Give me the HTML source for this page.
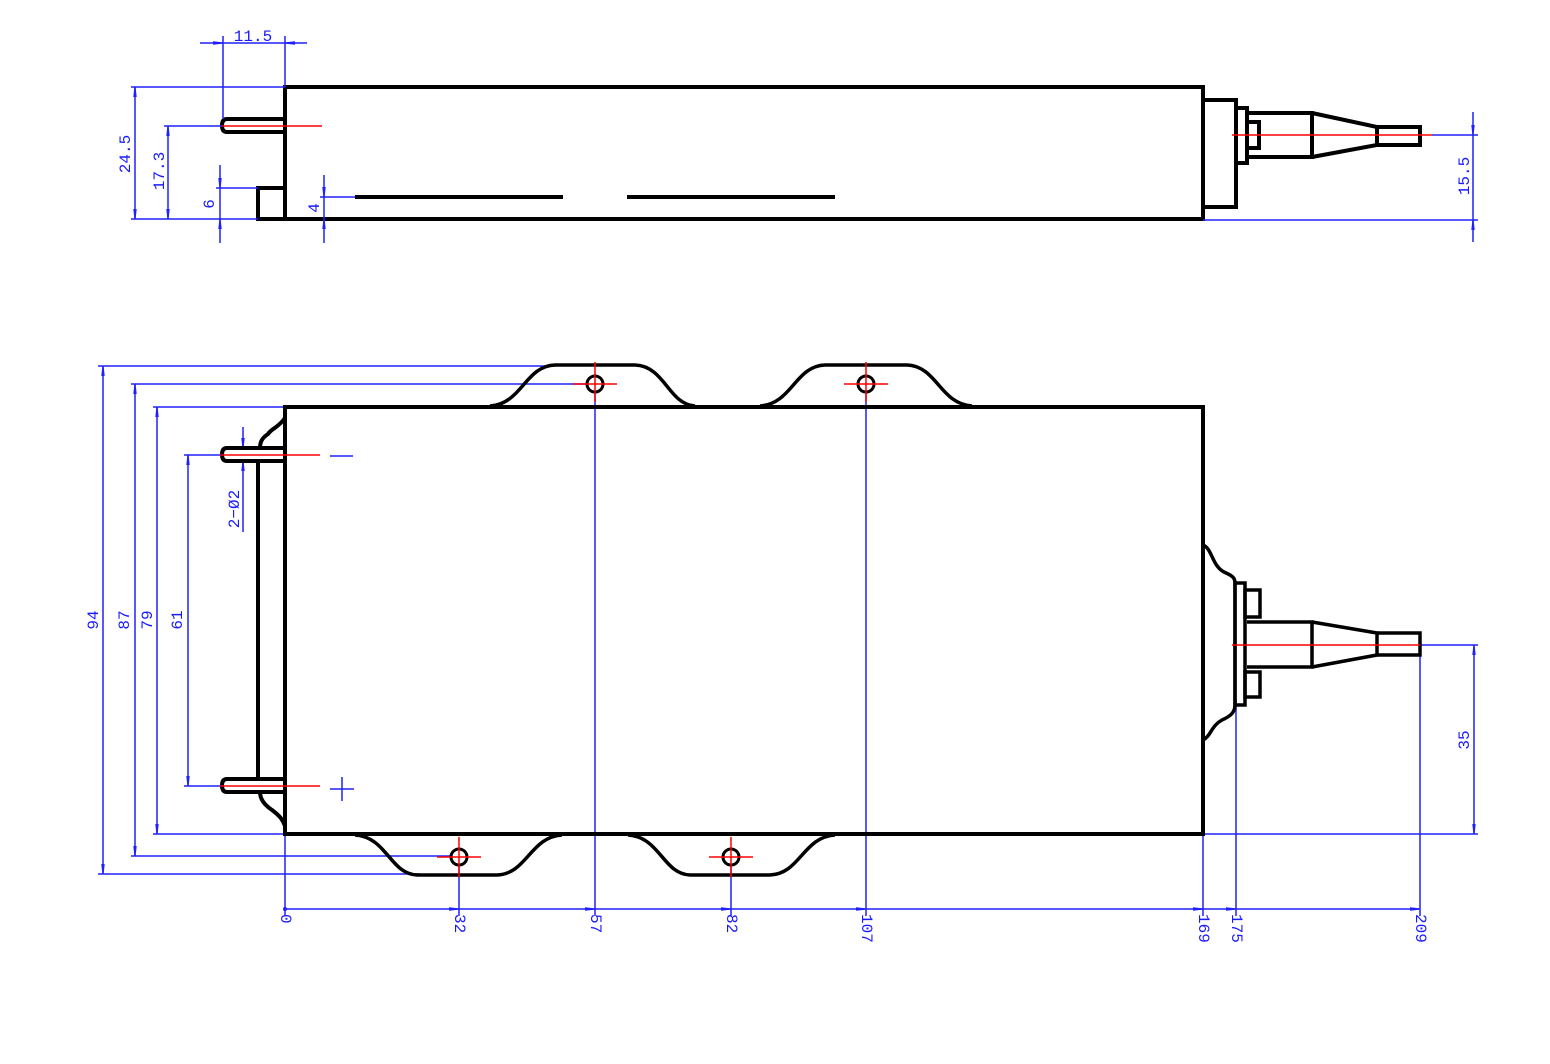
<!DOCTYPE html>
<html><head><meta charset="utf-8"><style>
html,body{margin:0;padding:0;background:#fff;}
svg{display:block;}
text{font-family:"Liberation Mono",monospace;font-size:16px;fill:#1a1aff;}
</style></head><body>
<svg width="1550" height="1064" viewBox="0 0 1550 1064" xmlns="http://www.w3.org/2000/svg">
<defs>
<marker id="a" viewBox="0 0 10 4" refX="10" refY="2" markerWidth="10" markerHeight="4" orient="auto-start-reverse" markerUnits="userSpaceOnUse"><path d="M0,0.3 L10,1.4 L10,2.6 L0,3.7z" fill="#2020ff"/></marker>
</defs>
<rect width="1550" height="1064" fill="#fff"/>

<!-- ================= TOP VIEW ================= -->
<g fill="none" stroke="#000" stroke-width="4" stroke-linejoin="miter">
  <rect x="285" y="87" width="918" height="132"/>
  <polyline points="285,188 258,188 258,219 285,219"/>
  <path d="M285,119 L227,119 Q222,119 222,125.5 Q222,132 227,132 L285,132"/>
  <line x1="355" y1="197" x2="563" y2="197"/>
  <line x1="627" y1="197" x2="835" y2="197"/>
  <!-- connector top view -->
  <rect x="1203" y="100" width="33" height="107"/>
  <rect x="1236" y="108" width="11" height="55"/>
  <rect x="1247" y="122" width="12" height="26"/>
  <polyline points="1247,113 1312,113 1312,157 1247,157"/>
  <polyline points="1312,113 1377,127 1377,145 1312,157"/>
  <polyline points="1377,127 1420,127 1420,145 1377,145"/>
</g>
<g stroke="#ff0000" stroke-width="1.5">
  <line x1="220" y1="126" x2="322" y2="126"/>
  <line x1="1232" y1="135" x2="1432" y2="135"/>
</g>
<g stroke="#2020ff" stroke-width="1.5" fill="none">
  <!-- 11.5 -->
  <line x1="223" y1="36" x2="223" y2="119"/>
  <line x1="285" y1="36" x2="285" y2="87"/>
  <line x1="200" y1="43" x2="223" y2="43" marker-end="url(#a)"/>
  <line x1="307" y1="43" x2="285" y2="43" marker-end="url(#a)"/>
  <line x1="223" y1="43" x2="285" y2="43"/>
  <!-- 24.5 -->
  <line x1="131" y1="87" x2="285" y2="87"/>
  <line x1="131" y1="219" x2="258" y2="219"/>
  <line x1="135" y1="87" x2="135" y2="219" marker-start="url(#a)" marker-end="url(#a)"/>
  <!-- 17.3 -->
  <line x1="164" y1="126" x2="222" y2="126"/>
  <line x1="168" y1="126" x2="168" y2="219" marker-start="url(#a)" marker-end="url(#a)"/>
  <!-- 6 -->
  <line x1="216" y1="188" x2="258" y2="188"/>
  <line x1="220" y1="165" x2="220" y2="188" marker-end="url(#a)"/>
  <line x1="220" y1="243" x2="220" y2="219" marker-end="url(#a)"/>
  <line x1="220" y1="188" x2="220" y2="219"/>
  <!-- 4 -->
  <line x1="320" y1="197" x2="355" y2="197"/>
  <line x1="324" y1="175" x2="324" y2="197" marker-end="url(#a)"/>
  <line x1="324" y1="243" x2="324" y2="219" marker-end="url(#a)"/>
  <line x1="324" y1="197" x2="324" y2="219"/>
  <!-- 15.5 -->
  <line x1="1432" y1="135" x2="1478" y2="135"/>
  <line x1="1203" y1="220" x2="1478" y2="220"/>
  <line x1="1473" y1="112" x2="1473" y2="135" marker-end="url(#a)"/>
  <line x1="1473" y1="242" x2="1473" y2="220" marker-end="url(#a)"/>
  <line x1="1473" y1="135" x2="1473" y2="220"/>
</g>
<text x="253" y="41" text-anchor="middle">11.5</text>
<text transform="translate(126,154) rotate(-90)" text-anchor="middle" dominant-baseline="central">24.5</text>
<text transform="translate(160,171) rotate(-90)" text-anchor="middle" dominant-baseline="central">17.3</text>
<text transform="translate(210,204) rotate(-90)" text-anchor="middle" dominant-baseline="central">6</text>
<text transform="translate(315,208) rotate(-90)" text-anchor="middle" dominant-baseline="central">4</text>
<text transform="translate(1465,176) rotate(-90)" text-anchor="middle" dominant-baseline="central">15.5</text>

<!-- ================= BOTTOM VIEW ================= -->
<g stroke="#2020ff" stroke-width="1.5" fill="none">
  <!-- 94 -->
  <line x1="98" y1="366" x2="555" y2="366"/>
  <line x1="98" y1="874" x2="420" y2="874"/>
  <line x1="103" y1="366" x2="103" y2="874" marker-start="url(#a)" marker-end="url(#a)"/>
  <!-- 87 -->
  <line x1="131" y1="384" x2="590" y2="384"/>
  <line x1="131" y1="856" x2="452" y2="856"/>
  <line x1="135" y1="384" x2="135" y2="856" marker-start="url(#a)" marker-end="url(#a)"/>
  <!-- 79 -->
  <line x1="153" y1="407" x2="285" y2="407"/>
  <line x1="153" y1="834" x2="285" y2="834"/>
  <line x1="157" y1="407" x2="157" y2="834" marker-start="url(#a)" marker-end="url(#a)"/>
  <!-- 61 -->
  <line x1="184" y1="455" x2="222" y2="455"/>
  <line x1="184" y1="786" x2="222" y2="786"/>
  <line x1="188" y1="455" x2="188" y2="786" marker-start="url(#a)" marker-end="url(#a)"/>
  <!-- 2-Ø2 -->
  <line x1="243" y1="427" x2="243" y2="448" marker-end="url(#a)"/>
  <line x1="243" y1="532" x2="243" y2="461" marker-end="url(#a)"/>
  <!-- minus / plus -->
  <line x1="330" y1="456" x2="353" y2="456"/>
  <line x1="330" y1="789" x2="354" y2="789"/>
  <line x1="342" y1="777" x2="342" y2="801"/>
  <!-- extension lines to bottom chain -->
  <line x1="285" y1="834" x2="285" y2="916"/>
  <line x1="459" y1="857" x2="459" y2="916"/>
  <line x1="595" y1="384" x2="595" y2="916"/>
  <line x1="731" y1="857" x2="731" y2="916"/>
  <line x1="866" y1="384" x2="866" y2="916"/>
  <line x1="1203" y1="834" x2="1203" y2="916"/>
  <line x1="1236" y1="700" x2="1236" y2="916"/>
  <line x1="1420" y1="645" x2="1420" y2="916"/>
  <!-- chain dimension -->
  <line x1="285" y1="909" x2="459" y2="909" marker-end="url(#a)"/>
  <line x1="459" y1="909" x2="595" y2="909" marker-end="url(#a)"/>
  <line x1="595" y1="909" x2="731" y2="909" marker-end="url(#a)"/>
  <line x1="731" y1="909" x2="866" y2="909" marker-end="url(#a)"/>
  <line x1="866" y1="909" x2="1203" y2="909" marker-end="url(#a)"/>
  <line x1="1203" y1="909" x2="1236" y2="909" marker-end="url(#a)"/>
  <line x1="1236" y1="909" x2="1420" y2="909" marker-end="url(#a)"/>
  <!-- 35 -->
  <line x1="1420" y1="645" x2="1478" y2="645"/>
  <line x1="1203" y1="834" x2="1478" y2="834"/>
  <line x1="1474" y1="645" x2="1474" y2="834" marker-start="url(#a)" marker-end="url(#a)"/>
</g>
<circle cx="285" cy="909" r="2" fill="#2020ff"/>

<g fill="none" stroke="#000" stroke-width="4">
  <rect x="285" y="407" width="918" height="427"/>
  <!-- left bracket -->
  <line x1="258" y1="461" x2="258" y2="779"/>
  <path d="M285,418 C278,428 272,428 268,434 C262,438 260,442 260,448"/>
  <path d="M260,792 C260,800 266,806 272,810 C280,816 283,820 285,826"/>
  <path d="M285,448 L227,448 Q222,448 222,454.5 Q222,461 227,461 L285,461"/>
  <path d="M285,779 L227,779 Q222,779 222,785.5 Q222,792 227,792 L285,792"/>
</g>
<g fill="none" stroke="#000" stroke-width="3.5">
  <!-- top flanges -->
  <path d="M490,406 C522,404 525,366 555,365 L635,365 C665,366 668,404 695,406"/>
  <path d="M760,406 C792,404 795,366 825,365 L907,365 C937,366 940,404 972,406"/>
  <!-- bottom flanges -->
  <path d="M355,835 C387,837 390,874 417,875 L497,875 C527,874 530,837 562,835"/>
  <path d="M628,835 C660,837 663,874 690,875 L770,875 C800,874 803,837 835,835"/>
  <!-- right connector bottom view -->
  <path d="M1203,545 C1212,548 1212,566 1224,572 C1233,576 1235,578 1235,583 L1235,705 C1235,712 1231,716 1222,720 C1211,726 1211,736 1203,740"/>
  <rect x="1235" y="583" width="10" height="122"/>
  <rect x="1245" y="590" width="15" height="27"/>
  <rect x="1245" y="672" width="15" height="25"/>
  <polyline points="1247,622 1312,622 1312,667 1247,667"/>
  <polyline points="1312,622 1377,633 1377,655 1312,667"/>
  <polyline points="1377,633 1420,633 1420,655 1377,655"/>
</g>
<g fill="#fff" stroke="#000" stroke-width="3">
  <circle cx="595" cy="384" r="8"/>
  <circle cx="866" cy="384" r="8"/>
  <circle cx="459" cy="857" r="8"/>
  <circle cx="731" cy="857" r="8"/>
</g>
<g stroke="#ff0000" stroke-width="1.5">
  <line x1="573" y1="384" x2="617" y2="384"/><line x1="595" y1="362" x2="595" y2="402"/>
  <line x1="844" y1="384" x2="888" y2="384"/><line x1="866" y1="362" x2="866" y2="402"/>
  <line x1="437" y1="857" x2="481" y2="857"/><line x1="459" y1="837" x2="459" y2="877"/>
  <line x1="709" y1="857" x2="753" y2="857"/><line x1="731" y1="837" x2="731" y2="877"/>
  <line x1="220" y1="455" x2="320" y2="455"/>
  <line x1="220" y1="786" x2="320" y2="786"/>
  <line x1="1232" y1="645" x2="1420" y2="645"/>
</g>

<!-- labels -->
<text transform="translate(94,620) rotate(-90)" text-anchor="middle" dominant-baseline="central">94</text>
<text transform="translate(125,620) rotate(-90)" text-anchor="middle" dominant-baseline="central">87</text>
<text transform="translate(148,620) rotate(-90)" text-anchor="middle" dominant-baseline="central">79</text>
<text transform="translate(178,620) rotate(-90)" text-anchor="middle" dominant-baseline="central">61</text>
<text transform="translate(235,509) rotate(-90)" text-anchor="middle" dominant-baseline="central">2−Ø2</text>
<text transform="translate(1465,740) rotate(-90)" text-anchor="middle" dominant-baseline="central">35</text>
<text transform="translate(285,914) rotate(90)" dominant-baseline="central">0</text>
<text transform="translate(459,914) rotate(90)" dominant-baseline="central">32</text>
<text transform="translate(595,914) rotate(90)" dominant-baseline="central">57</text>
<text transform="translate(731,914) rotate(90)" dominant-baseline="central">82</text>
<text transform="translate(866,914) rotate(90)" dominant-baseline="central">107</text>
<text transform="translate(1203,914) rotate(90)" dominant-baseline="central">169</text>
<text transform="translate(1236,914) rotate(90)" dominant-baseline="central">175</text>
<text transform="translate(1420,914) rotate(90)" dominant-baseline="central">209</text>
</svg>
</body></html>
